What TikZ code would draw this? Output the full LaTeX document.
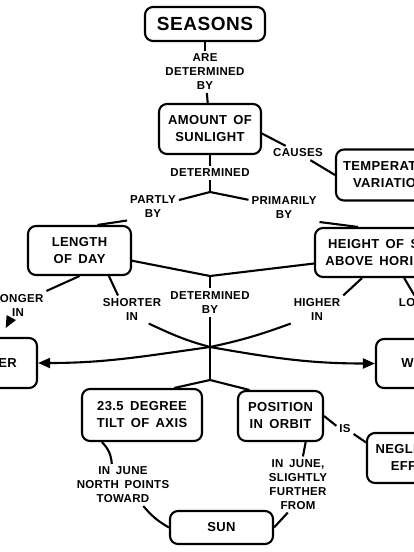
\documentclass[tikz,border=0pt]{standalone}
\usepackage{fontspec}
\setmainfont{Liberation Sans}[LetterSpace=3,WordSpace=1.6]
\usetikzlibrary{arrows.meta}

\begin{document}
\begin{tikzpicture}[x=1pt,y=1pt,line width=2.1pt,>={Triangle[length=12pt,width=10pt]},
  concept/.style={draw,rounded corners=8pt,align=center,inner sep=2pt,minimum height=49pt,font=\fontsize{13}{17}\selectfont\bfseries},
  link/.style={align=center,inner sep=2pt,font=\fontsize{11.5}{14}\selectfont\bfseries}]
\useasboundingbox (0,0) rectangle (414,-552);
\clip (0,0) rectangle (414,-552);

% concepts
\node[concept,minimum width=120pt,minimum height=34pt,font=\fontsize{19}{24}\selectfont\bfseries] (seasons) at (205,-24) {SEASONS};
\node[concept,minimum width=102pt,minimum height=50pt] (amount) at (210,-129) {AMOUNT OF\\SUNLIGHT};
\node[concept,minimum width=116pt,minimum height=51pt] (temp) at (394,-175) {TEMPERATURE\\VARIATIONS};
\node[concept,minimum width=103pt] (length) at (79.5,-250.5) {LENGTH\\OF DAY};
\node[concept,minimum width=137pt] (height) at (383.5,-252.5) {HEIGHT OF SUN\\ABOVE HORIZON};
\node[concept,minimum width=100pt,minimum height=50pt] (summer) at (-13,-363) {SUMMER};
\node[concept,minimum width=104pt] (winter) at (428,-363.5) {WINTER};
\node[concept,minimum width=120pt,minimum height=52pt] (tilt) at (142,-415) {23.5 DEGREE\\TILT OF AXIS};
\node[concept,minimum width=85pt,minimum height=50pt] (orbit) at (280.5,-416) {POSITION\\IN ORBIT};
\node[concept,minimum width=100pt,minimum height=50pt] (neg) at (417,-458) {NEGLIGIBLE\\EFFECT};
\node[concept,minimum width=103pt,minimum height=33pt] (sun) at (221.5,-527.5) {SUN};

% link words
\node[link] (areby) at (205,-72) {ARE\\DETERMINED\\BY};
\node[link] (det1) at (210,-173) {DETERMINED};
\node[link] (causes) at (298,-153) {CAUSES};
\node[link] (partly) at (153,-206.5) {PARTLY\\BY};
\node[link] (primarily) at (284,-208) {PRIMARILY\\BY};
\node[link] (longer) at (18,-305) {LONGER\\IN};
\node[link] (shorter) at (132,-309.5) {SHORTER\\IN};
\node[link] (det2) at (210,-302.5) {DETERMINED\\BY};
\node[link] (higher) at (317,-309.5) {HIGHER\\IN};
\node[link] (lower) at (421,-309.5) {LOWER\\IN};
\node[link] (is) at (345,-429) {IS};
\node[link] (june1) at (123,-485) {IN JUNE\\NORTH POINTS\\TOWARD};
\node[link] (further) at (298,-484.5) {IN JUNE,\\SLIGHTLY\\FURTHER\\FROM};

\coordinate (j1) at (210,-192);
\coordinate (j2) at (210,-276);
\coordinate (cross) at (210,-347);
\coordinate (j3) at (210,-380);

% links
\draw (seasons) -- (areby);
\draw (areby) -- (amount);
\draw (amount) -- (det1);
\draw (det1) -- (j1);
\draw (amount.-5) -- (causes.150);
\draw (causes.-30) -- (temp.west);
\draw (j1) -- (partly.14);
\draw (j1) -- (primarily.167);
\draw (partly.south west) -- (length.55);
\draw (primarily.south east) -- (height.135);
\draw (length.-11) -- (j2) -- (height.189);
\draw (j2) -- (det2);
\draw (det2) -- (j3);
\draw (j3) -- (tilt.40);
\draw (j3) -- (orbit.140);
\draw (length.south) -- (longer.north east);
\draw (length.-41) -- (shorter.135);
\draw (height.-130) -- (higher.north east);
\draw (height.-51) -- (lower.115);
\draw[->,shorten >=10pt] (longer) -- (summer);
\draw[->,shorten >=10pt] (lower) -- (winter);
\draw[->] (shorter.-40) to[out=-25,in=165] (cross) to[out=-10,in=180] (winter.west);
\draw[->] (higher.south west) to[out=200,in=12] (cross) to[out=188,in=0] (summer.east);
\draw (orbit.east) -- (is.160);
\draw (is.-30) -- (neg.163);
\draw (tilt.-146) to[bend left=20] (june1.118);
\draw (june1.-46) to[bend right=10] (sun.west);
\draw (orbit.-46) -- (further.80);
\draw (further.-110) -- (sun.east);
\end{tikzpicture}
\end{document}
